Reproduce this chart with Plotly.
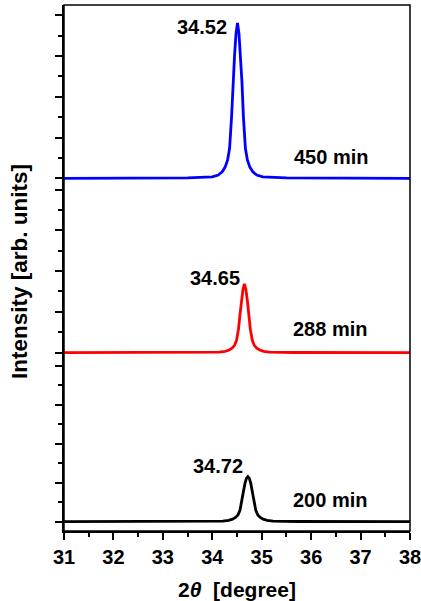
import plotly.graph_objects as go

# ---- data ----
x_ticks = [31, 32, 33, 34, 35, 36, 37, 38]

# 450 min (blue), peak at 34.52
blue_x = [31.0, 33.5, 34.0, 34.12, 34.2, 34.26, 34.31, 34.35, 34.39, 34.42, 34.45, 34.48,
          34.51, 34.54, 34.57, 34.60, 34.63, 34.67, 34.71, 34.76, 34.82, 34.90, 35.02, 35.5, 38.0]
blue_y = [0.0, 0.02, 0.07, 0.16, 0.32, 0.55, 0.90, 1.47, 3.0, 4.74, 6.0, 7.1,
          7.62, 7.1, 6.0, 4.74, 3.0, 1.47, 0.90, 0.55, 0.32, 0.16, 0.07, 0.02, 0.0]

# 288 min (red), peak at 34.65
red_x = [31.0, 33.6, 34.14, 34.26, 34.34, 34.40, 34.45, 34.49, 34.53, 34.56, 34.59, 34.62,
         34.65, 34.68, 34.71, 34.74, 34.77, 34.81, 34.85, 34.90, 34.96, 35.04, 35.16, 35.65, 38.0]
red_y = [0.0, 0.01, 0.03, 0.07, 0.13, 0.22, 0.36, 0.60, 1.15, 1.85, 2.55, 3.1,
         3.37, 3.1, 2.55, 1.85, 1.15, 0.60, 0.36, 0.22, 0.13, 0.07, 0.03, 0.01, 0.0]

# 200 min (black), peak at 34.72
black_x = [31.0, 33.7, 34.21, 34.33, 34.41, 34.47, 34.52, 34.56, 34.60, 34.63, 34.66, 34.69,
           34.72, 34.75, 34.78, 34.81, 34.84, 34.88, 34.92, 34.97, 35.03, 35.11, 35.23, 35.72, 38.0]
black_y = [0.0, 0.01, 0.03, 0.07, 0.13, 0.22, 0.35, 0.58, 1.05, 1.55, 1.95, 2.22,
           2.31, 2.22, 1.95, 1.55, 1.05, 0.58, 0.35, 0.22, 0.13, 0.07, 0.03, 0.01, 0.0]

peak_labels = ["34.52", "34.65", "34.72"]
time_labels = ["450 min", "288 min", "200 min"]

FONT = "Arial, Liberation Sans, sans-serif"

fig = go.Figure()
fig.add_trace(go.Scatter(x=black_x, y=black_y, xaxis="x", yaxis="y", mode="lines",
                         line=dict(color="#000000", width=2.8), showlegend=False))
fig.add_trace(go.Scatter(x=red_x, y=red_y, xaxis="x", yaxis="y2", mode="lines",
                         line=dict(color="#FF0000", width=2.8), showlegend=False))
fig.add_trace(go.Scatter(x=blue_x, y=blue_y, xaxis="x", yaxis="y3", mode="lines",
                         line=dict(color="#0000FF", width=2.8), showlegend=False))

yax_common = dict(showgrid=False, zeroline=False, showline=True, linecolor="black", linewidth=1.5,
                  ticks="outside", tickvals=[0, 2, 4, 6, 8], ticklen=7, tickwidth=1.5, tickcolor="black",
                  showticklabels=False, automargin=False,
                  minor=dict(tickvals=[1, 3, 5, 7], ticks="outside", ticklen=4, tickwidth=1.5,
                             tickcolor="black"),
                  anchor="x")

fig.update_layout(
    width=421, height=601,
    margin=dict(l=64, r=11, t=5, b=70),
    paper_bgcolor="white", plot_bgcolor="white",
    font=dict(family=FONT, color="black", size=20),
    xaxis=dict(range=[31, 38], tickvals=x_ticks, ticktext=[f"<b>{t}</b>" for t in x_ticks],
               ticks="outside", ticklen=7, tickwidth=1.5, automargin=False,
               ticklabeloverflow="allow",
               tickcolor="black", showgrid=False, zeroline=False, showline=True,
               linecolor="black", linewidth=1.5, anchor="y",
               minor=dict(dtick=0.5, ticks="outside", ticklen=4, tickwidth=1.5, tickcolor="black"),
               tickfont=dict(size=20, family=FONT),
               title=dict(text="<b>2<i>θ</i>&nbsp; [degree]</b>", standoff=16,
                          font=dict(size=21, family=FONT))),
    yaxis=dict(domain=[0, 0.327], range=[-0.477, 8.344], **yax_common),
    yaxis2=dict(domain=[0.327, 0.6597], range=[-0.309, 8.27],
                title=dict(text="<b>Intensity [arb. units]</b>", standoff=21,
                           font=dict(size=22.5, family=FONT)),
                **yax_common),
    yaxis3=dict(domain=[0.6597, 1], range=[-0.28, 8.505], **yax_common),
)

fig.add_shape(type="rect", xref="paper", yref="paper", x0=0, x1=1, y0=0, y1=1,
              line=dict(color="black", width=1.5), layer="above")

ann_font = dict(size=20, family=FONT, color="black")
# peak position labels
fig.add_annotation(x=33.80, y=7.43, xref="x", yref="y3", text=f"<b>{peak_labels[0]}</b>", showarrow=False, font=ann_font)
fig.add_annotation(x=34.05, y=3.65, xref="x", yref="y2", text=f"<b>{peak_labels[1]}</b>", showarrow=False, font=ann_font)
fig.add_annotation(x=34.11, y=2.86, xref="x", yref="y", text=f"<b>{peak_labels[2]}</b>", showarrow=False, font=ann_font)
# time labels
fig.add_annotation(x=36.41, y=1.06, xref="x", yref="y3", text=f"<b>{time_labels[0]}</b>", showarrow=False, font=ann_font)
fig.add_annotation(x=36.39, y=1.15, xref="x", yref="y2", text=f"<b>{time_labels[1]}</b>", showarrow=False, font=ann_font)
fig.add_annotation(x=36.39, y=1.11, xref="x", yref="y", text=f"<b>{time_labels[2]}</b>", showarrow=False, font=ann_font)

fig.write_html("out.html")
